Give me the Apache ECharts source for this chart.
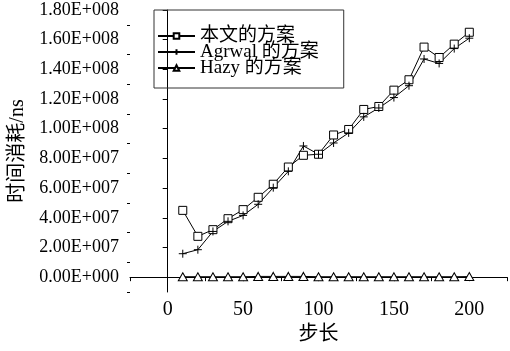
<!DOCTYPE html>
<html>
<head>
<meta charset="utf-8">
<script src="https://cdn.jsdelivr.net/npm/echarts@6/dist/echarts.min.js"></script>
<style>
  html, body { margin: 0; padding: 0; background: #fff; }
  #chart { width: 510px; height: 351px; }
</style>
</head>
<body>
<div id="chart"></div>
<script>
// 步长
var steps = [10, 20, 30, 40, 50, 60, 70, 80, 90, 100, 110, 120, 130, 140, 150, 160, 170, 180, 190, 200]
// 本文的方案
var oursData = [4.50e7, 2.75e7, 3.20e7, 3.94e7, 4.55e7, 5.38e7, 6.26e7, 7.42e7, 8.21e7, 8.28e7,
                9.58e7, 9.95e7, 1.13e8, 1.15e8, 1.26e8, 1.33e8, 1.55e8, 1.48e8, 1.57e8, 1.65e8]
// Agrwal 的方案
var agrwalData = [1.58e7, 1.85e7, 3.08e7, 3.76e7, 4.16e7, 4.91e7, 6.03e7, 7.13e7, 8.84e7, 8.28e7,
                  9.04e7, 9.72e7, 1.08e8, 1.14e8, 1.21e8, 1.29e8, 1.47e8, 1.44e8, 1.54e8, 1.61e8]
// Hazy 的方案
var hazyData = [3e5, 3e5, 3e5, 3e5, 3e5, 5e5, 5e5, 5e5, 5e5, 3e5,
                3e5, 3e5, 3e5, 3e5, 3e5, 3e5, 3e5, 3e5, 3e5, 4e5]
var seriesNames = ['本文的方案', 'Agrwal 的方案', 'Hazy 的方案']
var yMajorTicks = [0, 2e7, 4e7, 6e7, 8e7, 1e8, 1.2e8, 1.4e8, 1.6e8, 1.8e8]
var yMinorTicks = [-1e7, 1e7, 3e7, 5e7, 7e7, 9e7, 1.1e8, 1.3e8, 1.5e8, 1.7e8]
var xLabelTicks = [0, 50, 100, 150, 200]

var FONT = "'Liberation Serif', 'Noto Sans CJK SC', serif"
var plusPath = 'path://M5,0L5,10M0,5L10,5'

function pairs (ys) {
    return steps.map(function (x, i) { return [x, ys[i]] })
}

// 科学计数格式 1.80E+008
function sci (v) {
    if (v === 0) return '0.00E+000'
    var e = Math.floor(Math.log10(Math.abs(v)))
    var m = v / Math.pow(10, e)
    if (Math.abs(m) >= 9.995) { m = m / 10; e += 1 }
    var es = String(Math.abs(e))
    while (es.length < 3) es = '0' + es
    return m.toFixed(2) + 'E' + (e < 0 ? '-' : '+') + es
}

var chart = echarts.init(document.getElementById('chart'))
chart.setOption({
    backgroundColor: '#fff',
    animation: false,
    textStyle: { fontFamily: FONT, color: '#000' },
    legend: {
        data: seriesNames,
        orient: 'vertical',
        left: 154,
        top: 10,
        padding: [16, 25, 10, 3],
        itemGap: -4,
        itemWidth: 37,
        itemHeight: 7,
        borderColor: '#333',
        borderWidth: 1,
        textStyle: { fontFamily: FONT, fontSize: 19, color: '#000', lineHeight: 20 }
    },
    grid: { left: 130, top: 10, width: 377, height: 282, containLabel: false },
    xAxis: {
        type: 'value',
        min: -25,
        max: 225,
        interval: 25,
        name: '步长',
        nameLocation: 'middle',
        nameGap: 32,
        nameTextStyle: { fontFamily: FONT, fontSize: 20, color: '#000' },
        splitLine: { show: false },
        axisLine: { lineStyle: { color: '#000', width: 1 } },
        axisTick: { inside: false, length: 4, lineStyle: { color: '#000' } },
        axisLabel: {
            fontFamily: FONT,
            fontSize: 20,
            color: '#000',
            margin: 8,
            formatter: function (v) { return xLabelTicks.indexOf(v) >= 0 ? String(v) : '' }
        }
    },
    yAxis: [{
        type: 'value',
        min: -1e7,
        max: 1.8e8,
        name: '时间消耗/ns',
        nameLocation: 'middle',
        nameRotate: 90,
        nameGap: 102,
        nameTextStyle: { fontFamily: FONT, fontSize: 20, color: '#000' },
        splitLine: { show: false },
        axisLine: { lineStyle: { color: '#000', width: 1 } },
        axisTick: { length: 5, customValues: yMajorTicks, lineStyle: { color: '#000' } },
        axisLabel: {
            fontFamily: FONT,
            fontSize: 18,
            color: '#000',
            margin: 11,
            customValues: yMajorTicks,
            formatter: sci
        }
    }, {
        type: 'value',
        min: -1e7,
        max: 1.8e8,
        position: 'left',
        splitLine: { show: false },
        axisLine: { show: false },
        axisTick: { length: 3, customValues: yMinorTicks, lineStyle: { color: '#000' } },
        axisLabel: { show: false }
    }],
    series: [{
        name: seriesNames[0],
        type: 'line',
        data: pairs(oursData),
        symbol: 'rect',
        symbolSize: 8,
        lineStyle: { color: '#000', width: 1 },
        itemStyle: { color: '#fff', borderColor: '#000', borderWidth: 1 }
    }, {
        name: seriesNames[1],
        type: 'line',
        data: pairs(agrwalData),
        symbol: plusPath,
        symbolSize: 8,
        lineStyle: { color: '#000', width: 1 },
        itemStyle: { color: '#000', borderColor: '#000', borderWidth: 1 }
    }, {
        name: seriesNames[2],
        type: 'line',
        data: pairs(hazyData),
        symbol: 'triangle',
        symbolSize: [9, 8],
        lineStyle: { color: '#000', width: 1 },
        itemStyle: { color: '#fff', borderColor: '#000', borderWidth: 1 }
    }]
})
</script>
</body>
</html>
